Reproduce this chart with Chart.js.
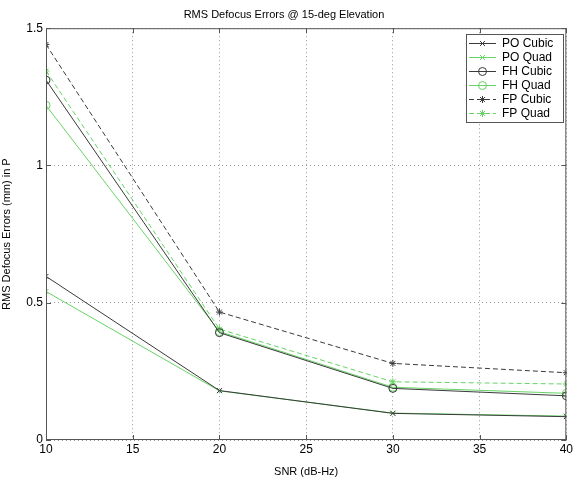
<!DOCTYPE html>
<html>
<head>
<meta charset="utf-8">
<script src="https://cdn.jsdelivr.net/npm/chart.js@4.4.1/dist/chart.umd.min.js"></script>
<style>
  html, body { margin: 0; padding: 0; background: #fff; }
  #wrap { width: 575px; height: 479px; }
</style>
</head>
<body>
<div id="wrap"><canvas id="c"></canvas></div>
<script>
const snr = [10, 20, 30, 40];
const poCubic = [0.596, 0.180, 0.097, 0.085];
const poQuad  = [0.541, 0.179, 0.098, 0.087];
const fhCubic = [1.311, 0.391, 0.188, 0.161];
const fhQuad  = [1.219, 0.395, 0.192, 0.170];
const fpCubic = [1.441, 0.466, 0.279, 0.245];
const fpQuad  = [1.344, 0.404, 0.212, 0.204];
const xTicks = [10, 15, 20, 25, 30, 35, 40];
const yTicks = [0, 0.5, 1, 1.5];

const BLACK = "#3a3a3a";
const GREEN = "#66d466";
const FONT = "'Liberation Sans', Arial, sans-serif";

function series(label, values, color, marker, dashed) {
  return {
    label,
    data: values.map((v, i) => ({ x: snr[i], y: v })),
    borderColor: color,
    borderWidth: 1,
    borderDash: dashed ? [5, 3] : [],
    pointStyle: marker,
    pointRadius: marker === "circle" ? 4 : 3.5,
    pointBorderColor: color,
    pointBackgroundColor: "rgba(0,0,0,0)",
    pointBorderWidth: 1,
    tension: 0,
    fill: false,
  };
}

const datasets = [
  series("PO Cubic", poCubic, BLACK, "crossRot", false),
  series("PO Quad", poQuad, GREEN, "crossRot", false),
  series("FH Cubic", fhCubic, BLACK, "circle", false),
  series("FH Quad", fhQuad, GREEN, "circle", false),
  series("FP Cubic", fpCubic, BLACK, "star", true),
  series("FP Quad", fpQuad, GREEN, "star", true),
];

// box, inward ticks and legend drawn the MATLAB way
const matlabFrame = {
  id: "matlabFrame",
  afterDatasetsDraw(chart) {
    const { ctx, chartArea: a, scales } = chart;
    ctx.save();
    ctx.strokeStyle = "#555";
    ctx.lineWidth = 1;
    ctx.setLineDash([]);
    ctx.strokeRect(a.left + 0.5, a.top + 0.5, a.right - a.left - 1, a.bottom - a.top - 1);
    ctx.beginPath();
    xTicks.forEach(t => {
      const x = Math.round(scales.x.getPixelForValue(t)) + 0.5;
      ctx.moveTo(x, a.bottom); ctx.lineTo(x, a.bottom - 5);
      ctx.moveTo(x, a.top); ctx.lineTo(x, a.top + 5);
    });
    yTicks.forEach(t => {
      const y = Math.round(scales.y.getPixelForValue(t)) + 0.5;
      ctx.moveTo(a.left, y); ctx.lineTo(a.left + 5, y);
      ctx.moveTo(a.right, y); ctx.lineTo(a.right - 5, y);
    });
    ctx.stroke();

    // legend
    const bx = 466, by = 34, bw = 97, bh = 88;
    ctx.fillStyle = "#fff";
    ctx.fillRect(bx, by, bw, bh);
    ctx.strokeStyle = "#555";
    ctx.strokeRect(bx + 0.5, by + 0.5, bw, bh);
    ctx.font = "12px " + FONT;
    ctx.textBaseline = "middle";
    chart.data.datasets.forEach((ds, i) => {
      const y = by + 9 + i * 14;
      ctx.strokeStyle = ds.borderColor;
      ctx.setLineDash(ds.borderDash);
      ctx.beginPath();
      ctx.moveTo(bx + 3, y + 0.5); ctx.lineTo(bx + 30, y + 0.5);
      ctx.stroke();
      ctx.setLineDash([]);
      ctx.fillStyle = "rgba(0,0,0,0)";
      ctx.strokeStyle = ds.borderColor;
      Chart.helpers.drawPoint(ctx, {
        pointStyle: ds.pointStyle, radius: ds.pointRadius, borderWidth: 1, rotation: 0,
      }, bx + 16.5, y + 0.5);
      ctx.fillStyle = "#000";
      ctx.fillText(ds.label, bx + 36, y + 1);
    });
    ctx.restore();
  },
};

new Chart(document.getElementById("c"), {
  type: "line",
  data: { datasets },
  plugins: [matlabFrame],
  options: {
    responsive: true,
    maintainAspectRatio: false,
    animation: false,
    layout: { padding: { left: 0, right: 7, top: 0, bottom: 0 } },
    plugins: {
      legend: { display: false },
      tooltip: { enabled: false },
      title: {
        display: true,
        text: "RMS Defocus Errors @ 15-deg Elevation",
        color: "#000",
        font: { family: FONT, size: 11, weight: "normal" },
        padding: { top: 8, bottom: 7 },
      },
    },
    scales: {
      x: {
        type: "linear",
        min: 10,
        max: 40,
        afterBuildTicks: s => { s.ticks = xTicks.map(v => ({ value: v })); },
        afterFit: s => { s.height = 39; },
        ticks: { color: "#000", font: { family: FONT, size: 12 }, padding: 2, maxRotation: 0 },
        grid: { color: "#999", drawTicks: false, lineWidth: 1 },
        border: { display: false, dash: [1, 3] },
        title: {
          display: true, text: "SNR (dB-Hz)", color: "#000",
          font: { family: FONT, size: 11 }, padding: { top: 1, bottom: 0 },
        },
      },
      y: {
        min: 0,
        max: 1.5,
        afterBuildTicks: s => { s.ticks = yTicks.map(v => ({ value: v })); },
        afterFit: s => { s.width = 46; },
        ticks: {
          color: "#000", font: { family: FONT, size: 12 }, padding: 3,
          callback: v => String(v),
        },
        grid: { color: "#999", drawTicks: false, lineWidth: 1 },
        border: { display: false, dash: [1, 3] },
        title: {
          display: true, text: "RMS Defocus Errors (mm) in P", color: "#000",
          font: { family: FONT, size: 11 }, padding: { top: 0, bottom: 4 },
        },
      },
    },
  },
});
</script>
</body>
</html>
